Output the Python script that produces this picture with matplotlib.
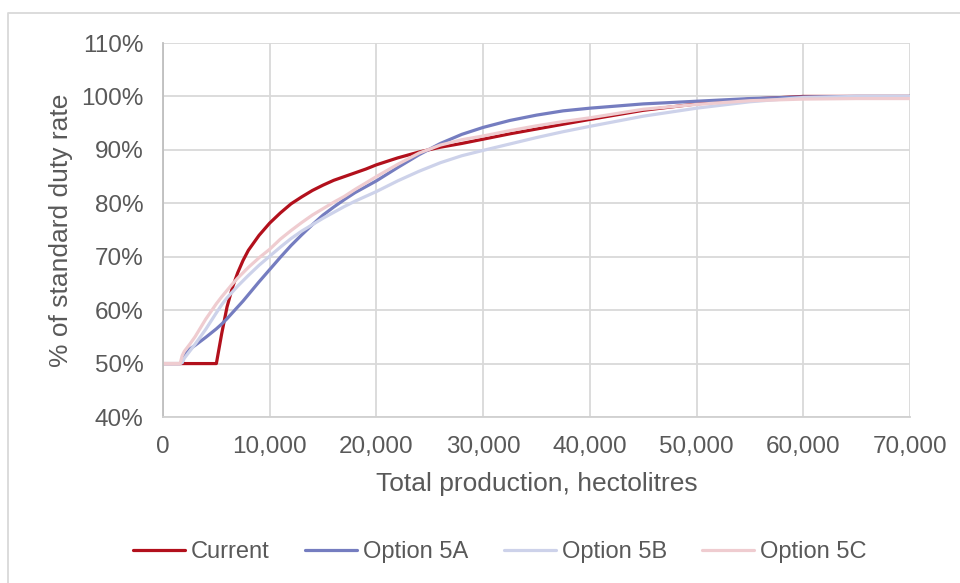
import matplotlib
matplotlib.use("Agg")
import matplotlib.pyplot as plt
from matplotlib.lines import Line2D
from matplotlib.ticker import FuncFormatter

# production levels (hectolitres)
production = [0, 1600, 1800, 2000, 2500, 3000, 4000, 5000, 5500, 6000,
              6500, 7000, 7500, 8000, 9000, 10000, 11000, 12000, 13000, 14000,
              15000, 16000, 17000, 18000, 19000, 20000, 22000, 24000, 26000, 28000,
              30000, 32500, 35000, 37500, 40000, 45000, 50000, 55000, 60000, 65000,
              70000]

# % of standard duty rate for each scheme
current = [50, 50, 50, 50, 50, 50, 50, 50, 55.6, 60.6,
           64.2, 67.0, 69.3, 71.2, 74.0, 76.3, 78.2, 79.9, 81.2, 82.4,
           83.4, 84.3, 85.0, 85.7, 86.4, 87.2, 88.5, 89.6, 90.5, 91.2,
           92.0, 93.0, 93.9, 94.8, 95.7, 97.4, 98.6, 99.5, 100, 100,
           100]
option_5a = [50, 50, 50.2, 51.5, 52.7, 53.4, 54.9, 56.5, 57.4, 58.4,
             59.5, 60.6, 61.7, 62.9, 65.3, 67.6, 69.9, 72.1, 74.1, 76.0,
             77.8, 79.3, 80.7, 82.0, 83.1, 84.2, 86.7, 89.1, 91.2, 92.9,
             94.2, 95.5, 96.5, 97.3, 97.8, 98.6, 99.1, 99.6, 99.9, 100,
             100]
option_5b = [50, 50, 50.2, 51.0, 52.3, 53.6, 56.4, 59.5, 61.0, 62.3,
             63.4, 64.5, 65.5, 66.5, 68.4, 70.1, 71.8, 73.4, 74.8, 76.0,
             77.2, 78.3, 79.4, 80.4, 81.3, 82.2, 84.2, 86.0, 87.6, 88.9,
             89.9, 91.1, 92.3, 93.4, 94.4, 96.3, 97.8, 99.0, 99.8, 100,
             100]
option_5c = [50, 50, 51.5, 52.3, 53.6, 55.0, 58.3, 61.2, 62.5, 63.7,
             64.9, 66.0, 67.0, 68.0, 69.8, 71.4, 73.3, 74.9, 76.4, 77.8,
             79.0, 80.2, 81.3, 82.6, 83.8, 85.0, 87.3, 89.4, 90.9, 91.9,
             92.6, 93.6, 94.5, 95.3, 96.0, 97.6, 98.5, 99.2, 99.5, 99.6,
             99.6]

series_names = ["Current", "Option 5A", "Option 5B", "Option 5C"]
series_colors = ["#B2101C", "#757DC0", "#CDD2EA", "#EFCCD0"]

text_color = "#595959"
plt.rcParams["font.family"] = ["Liberation Sans", "DejaVu Sans"]

fig = plt.figure(figsize=(9.6, 5.83), dpi=100)
ax = fig.add_axes([163 / 960, 1 - 417 / 583, 747 / 960, 374 / 583])

for values, name, color in zip([current, option_5a, option_5b, option_5c],
                               series_names, series_colors):
    ax.plot(production, [v / 100 for v in values], color=color, lw=2.3,
            label=name, solid_joinstyle="round", solid_capstyle="round")

ax.set_xlim(0, 70000)
ax.set_ylim(0.4, 1.1)
ax.set_xticks(range(0, 70001, 10000))
ax.set_yticks([0.4 + 0.1 * i for i in range(8)])
ax.xaxis.set_major_formatter(FuncFormatter(lambda v, p: f"{int(v):,}"))
ax.yaxis.set_major_formatter(FuncFormatter(lambda v, p: f"{v * 100:.0f}%"))

ax.grid(True, color="#D9D9D9", lw=1.3)
ax.set_axisbelow(True)
for side in ["top", "right"]:
    ax.spines[side].set_visible(False)
ax.spines["left"].set_color("#BFBFBF")
ax.spines["bottom"].set_color("#D0D0D0")
ax.spines["left"].set_linewidth(1.3)
ax.spines["bottom"].set_linewidth(1.3)

ax.tick_params(axis="both", length=0, labelsize=17.5, labelcolor=text_color)
ax.tick_params(axis="x", pad=14)
ax.tick_params(axis="y", pad=14)

ax.set_xlabel("Total production, hectolitres", fontsize=19, color=text_color,
              labelpad=10)
ax.set_ylabel("% of standard duty rate", fontsize=19, color=text_color,
              labelpad=6)

fig.legend(loc="center", bbox_to_anchor=(500 / 960, 1 - 552 / 583), ncol=4,
           frameon=False, fontsize=17, handlelength=2.2, handletextpad=0.25,
           columnspacing=1.5, labelcolor=text_color)

# chart area border
fig.add_artist(Line2D([8 / 960, 8 / 960, 1.0], [0.0, 1 - 13 / 583, 1 - 13 / 583],
                      color="#D9D9D9", lw=1.3, transform=fig.transFigure))

fig.savefig("out.png", dpi=100)
